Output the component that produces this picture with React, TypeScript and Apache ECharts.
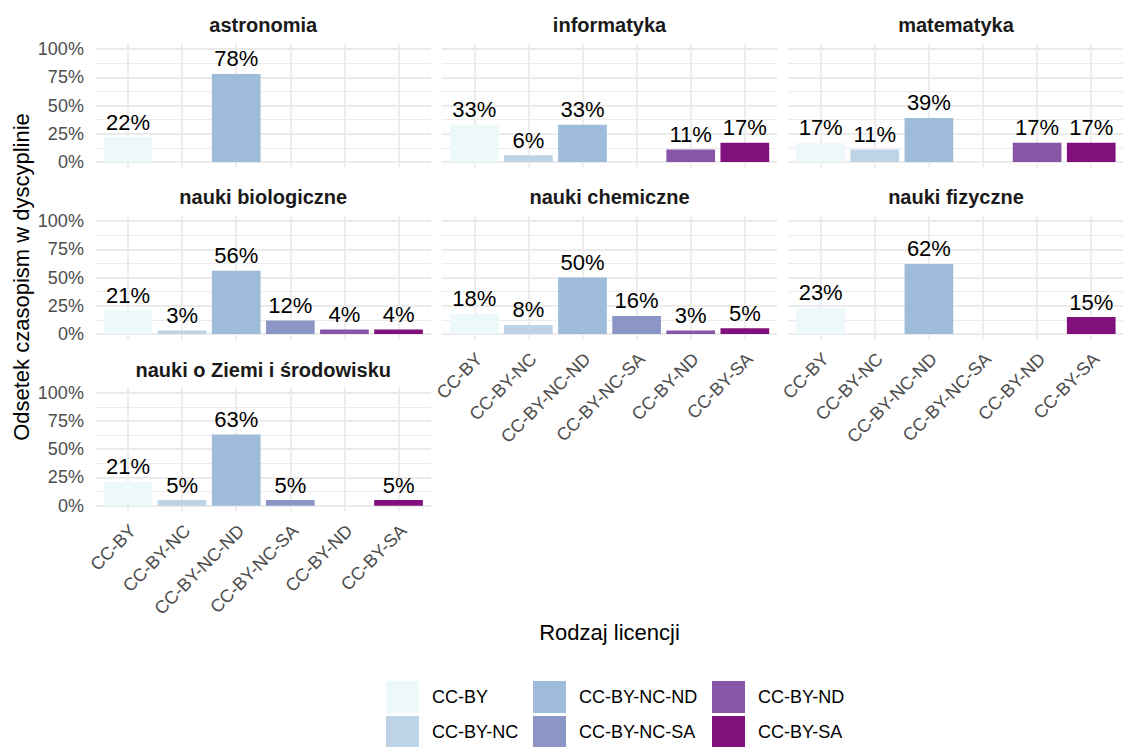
import React, { useEffect, useRef } from 'react';
import * as echarts from 'echarts';

const categories = ['CC-BY', 'CC-BY-NC', 'CC-BY-NC-ND', 'CC-BY-NC-SA', 'CC-BY-ND', 'CC-BY-SA'];
const palette = ['#EDF8FB', '#BFD3E6', '#9EBCDA', '#8C96C6', '#8856A7', '#810F7C'];
const panelNames = [
  'astronomia',
  'informatyka',
  'matematyka',
  'nauki biologiczne',
  'nauki chemiczne',
  'nauki fizyczne',
  'nauki o Ziemi i środowisku',
];
const astronomia = [22, null, 78, null, null, null];
const informatyka = [33, 6, 33, null, 11, 17];
const matematyka = [17, 11, 39, null, 17, 17];
const naukiBiologiczne = [21, 3, 56, 12, 4, 4];
const naukiChemiczne = [18, 8, 50, 16, 3, 5];
const naukiFizyczne = [23, null, 62, null, null, 15];
const naukiOZiemi = [21, 5, 63, 5, null, 5];
const panelValues = [astronomia, informatyka, matematyka, naukiBiologiczne, naukiChemiczne, naukiFizyczne, naukiOZiemi];
const yTicks = [0, 25, 50, 75, 100];
const yMinorTicks = [12.5, 37.5, 62.5, 87.5];
const yAxisTitle = 'Odsetek czasopism w dyscyplinie';
const xAxisTitle = 'Rodzaj licencji';

const FONT = '"Liberation Sans", Arial, Helvetica, sans-serif';
const colLeft = [95.5, 441.8, 788.2];
const panelW = 335.5;
const rowTop = [43.4, 215.4, 387.1];
const panelH = 124.2;
const titleY = [25.4, 197.1, 369.8];
const GRID = '#EBEBEB';
const SMALL = 18;

function buildOption() {
  const grids: any[] = [];
  const xAxes: any[] = [];
  const yAxes: any[] = [];
  const series: any[] = [];
  const graphics: any[] = [];
  const catIdx = categories.map((_, k) => k);

  panelNames.forEach((name, i) => {
    const col = i % 3;
    const row = Math.floor(i / 3);
    const showX = i >= 4;
    const showY = col === 0;
    grids.push({
      left: colLeft[col],
      top: rowTop[row],
      width: panelW,
      height: panelH,
      containLabel: false,
      outerBoundsMode: 'none',
    });
    xAxes.push({
      type: 'value',
      gridIndex: i,
      min: -0.6,
      max: 5.6,
      axisLine: { show: false },
      axisTick: { show: false },
      splitLine: { show: false },
      axisLabel: {
        show: showX,
        customValues: catIdx,
        formatter: (v: number) => categories[Math.round(v)] ?? '',
        rotate: 45,
        align: 'right',
        verticalAlign: 'top',
        lineHeight: 14.2,
        margin: 11.5,
        fontSize: SMALL,
        color: '#4D4D4D',
        fontFamily: FONT,
      },
    });
    yAxes.push({
      type: 'value',
      gridIndex: i,
      min: -5,
      max: 105,
      axisLine: { show: false },
      axisTick: { show: false },
      splitLine: { show: false },
      axisLabel: {
        show: showY,
        customValues: yTicks,
        formatter: (v: number) => `${v}%`,
        margin: 11.6,
        fontSize: SMALL,
        color: '#4D4D4D',
        fontFamily: FONT,
      },
    });

    const vals = panelValues[i];
    let first = true;
    categories.forEach((cat, k) => {
      const v = vals[k];
      if (v == null) return;
      const s: any = {
        type: 'bar',
        name: cat,
        xAxisIndex: i,
        yAxisIndex: i,
        data: [[k, v]],
        barWidth: 48.7,
        barGap: '-100%',
        z: 2,
        itemStyle: { color: palette[k] },
        emphasis: { disabled: true },
        label: {
          show: true,
          position: 'top',
          distance: 4,
          formatter: (p: any) => `${p.value[1]}%`,
          fontSize: 22,
          color: '#000000',
          fontFamily: FONT,
        },
      };
      if (first) {
        first = false;
        s.markLine = {
          silent: true,
          z: 1,
          symbol: ['none', 'none'],
          label: { show: false },
          emphasis: { disabled: true },
          animation: false,
          lineStyle: { color: GRID, type: 'solid', width: 1.8 },
          data: [
            ...yMinorTicks.map((t) => ({ yAxis: t, lineStyle: { color: GRID, type: 'solid', width: 1.0 } })),
            ...yTicks.map((t) => ({ yAxis: t })),
            ...catIdx.map((c) => ({ xAxis: c })),
          ],
        };
      }
      series.push(s);
    });

    graphics.push({
      type: 'text',
      x: colLeft[col] + panelW / 2,
      y: titleY[row],
      silent: true,
      style: {
        text: name,
        fontSize: 20,
        fontWeight: 'bold',
        fill: '#1A1A1A',
        align: 'center',
        verticalAlign: 'middle',
        fontFamily: FONT,
      },
    });
  });

  graphics.push({
    type: 'text',
    x: 21.4,
    y: 277,
    rotation: Math.PI / 2,
    silent: true,
    style: { text: yAxisTitle, fontSize: 22, fill: '#000000', align: 'center', verticalAlign: 'middle', fontFamily: FONT },
  });
  graphics.push({
    type: 'text',
    x: 609.5,
    y: 632.4,
    silent: true,
    style: { text: xAxisTitle, fontSize: 22, fill: '#000000', align: 'center', verticalAlign: 'middle', fontFamily: FONT },
  });

  const legendCols = [
    { data: [categories[0], categories[1]], left: 386 },
    { data: [categories[2], categories[3]], left: 533 },
    { data: [categories[4], categories[5]], left: 712 },
  ];
  const legend = legendCols.map((l) => ({
    data: l.data,
    left: l.left,
    top: 681,
    width: 200,
    height: 120,
    orient: 'vertical',
    itemGap: 3,
    itemWidth: 33,
    itemHeight: 32,
    icon: 'rect',
    padding: 0,
    selectedMode: false,
    textStyle: { fontSize: SMALL, color: '#000000', fontFamily: FONT, padding: [0, 0, 0, 8] },
  }));

  return {
    animation: false,
    backgroundColor: '#FFFFFF',
    textStyle: { fontFamily: FONT },
    grid: grids,
    xAxis: xAxes,
    yAxis: yAxes,
    series,
    legend,
    graphic: graphics,
  };
}

export default function App() {
  const ref = useRef<HTMLDivElement>(null);
  useEffect(() => {
    if (!ref.current) return;
    const chart = echarts.init(ref.current, undefined, { renderer: 'svg' });
    chart.setOption(buildOption() as any);
    return () => chart.dispose();
  }, []);
  return (
    <div
      ref={ref}
      style={{ position: 'fixed', left: 0, top: 0, width: 1123, height: 747, background: '#fff' }}
    />
  );
}
